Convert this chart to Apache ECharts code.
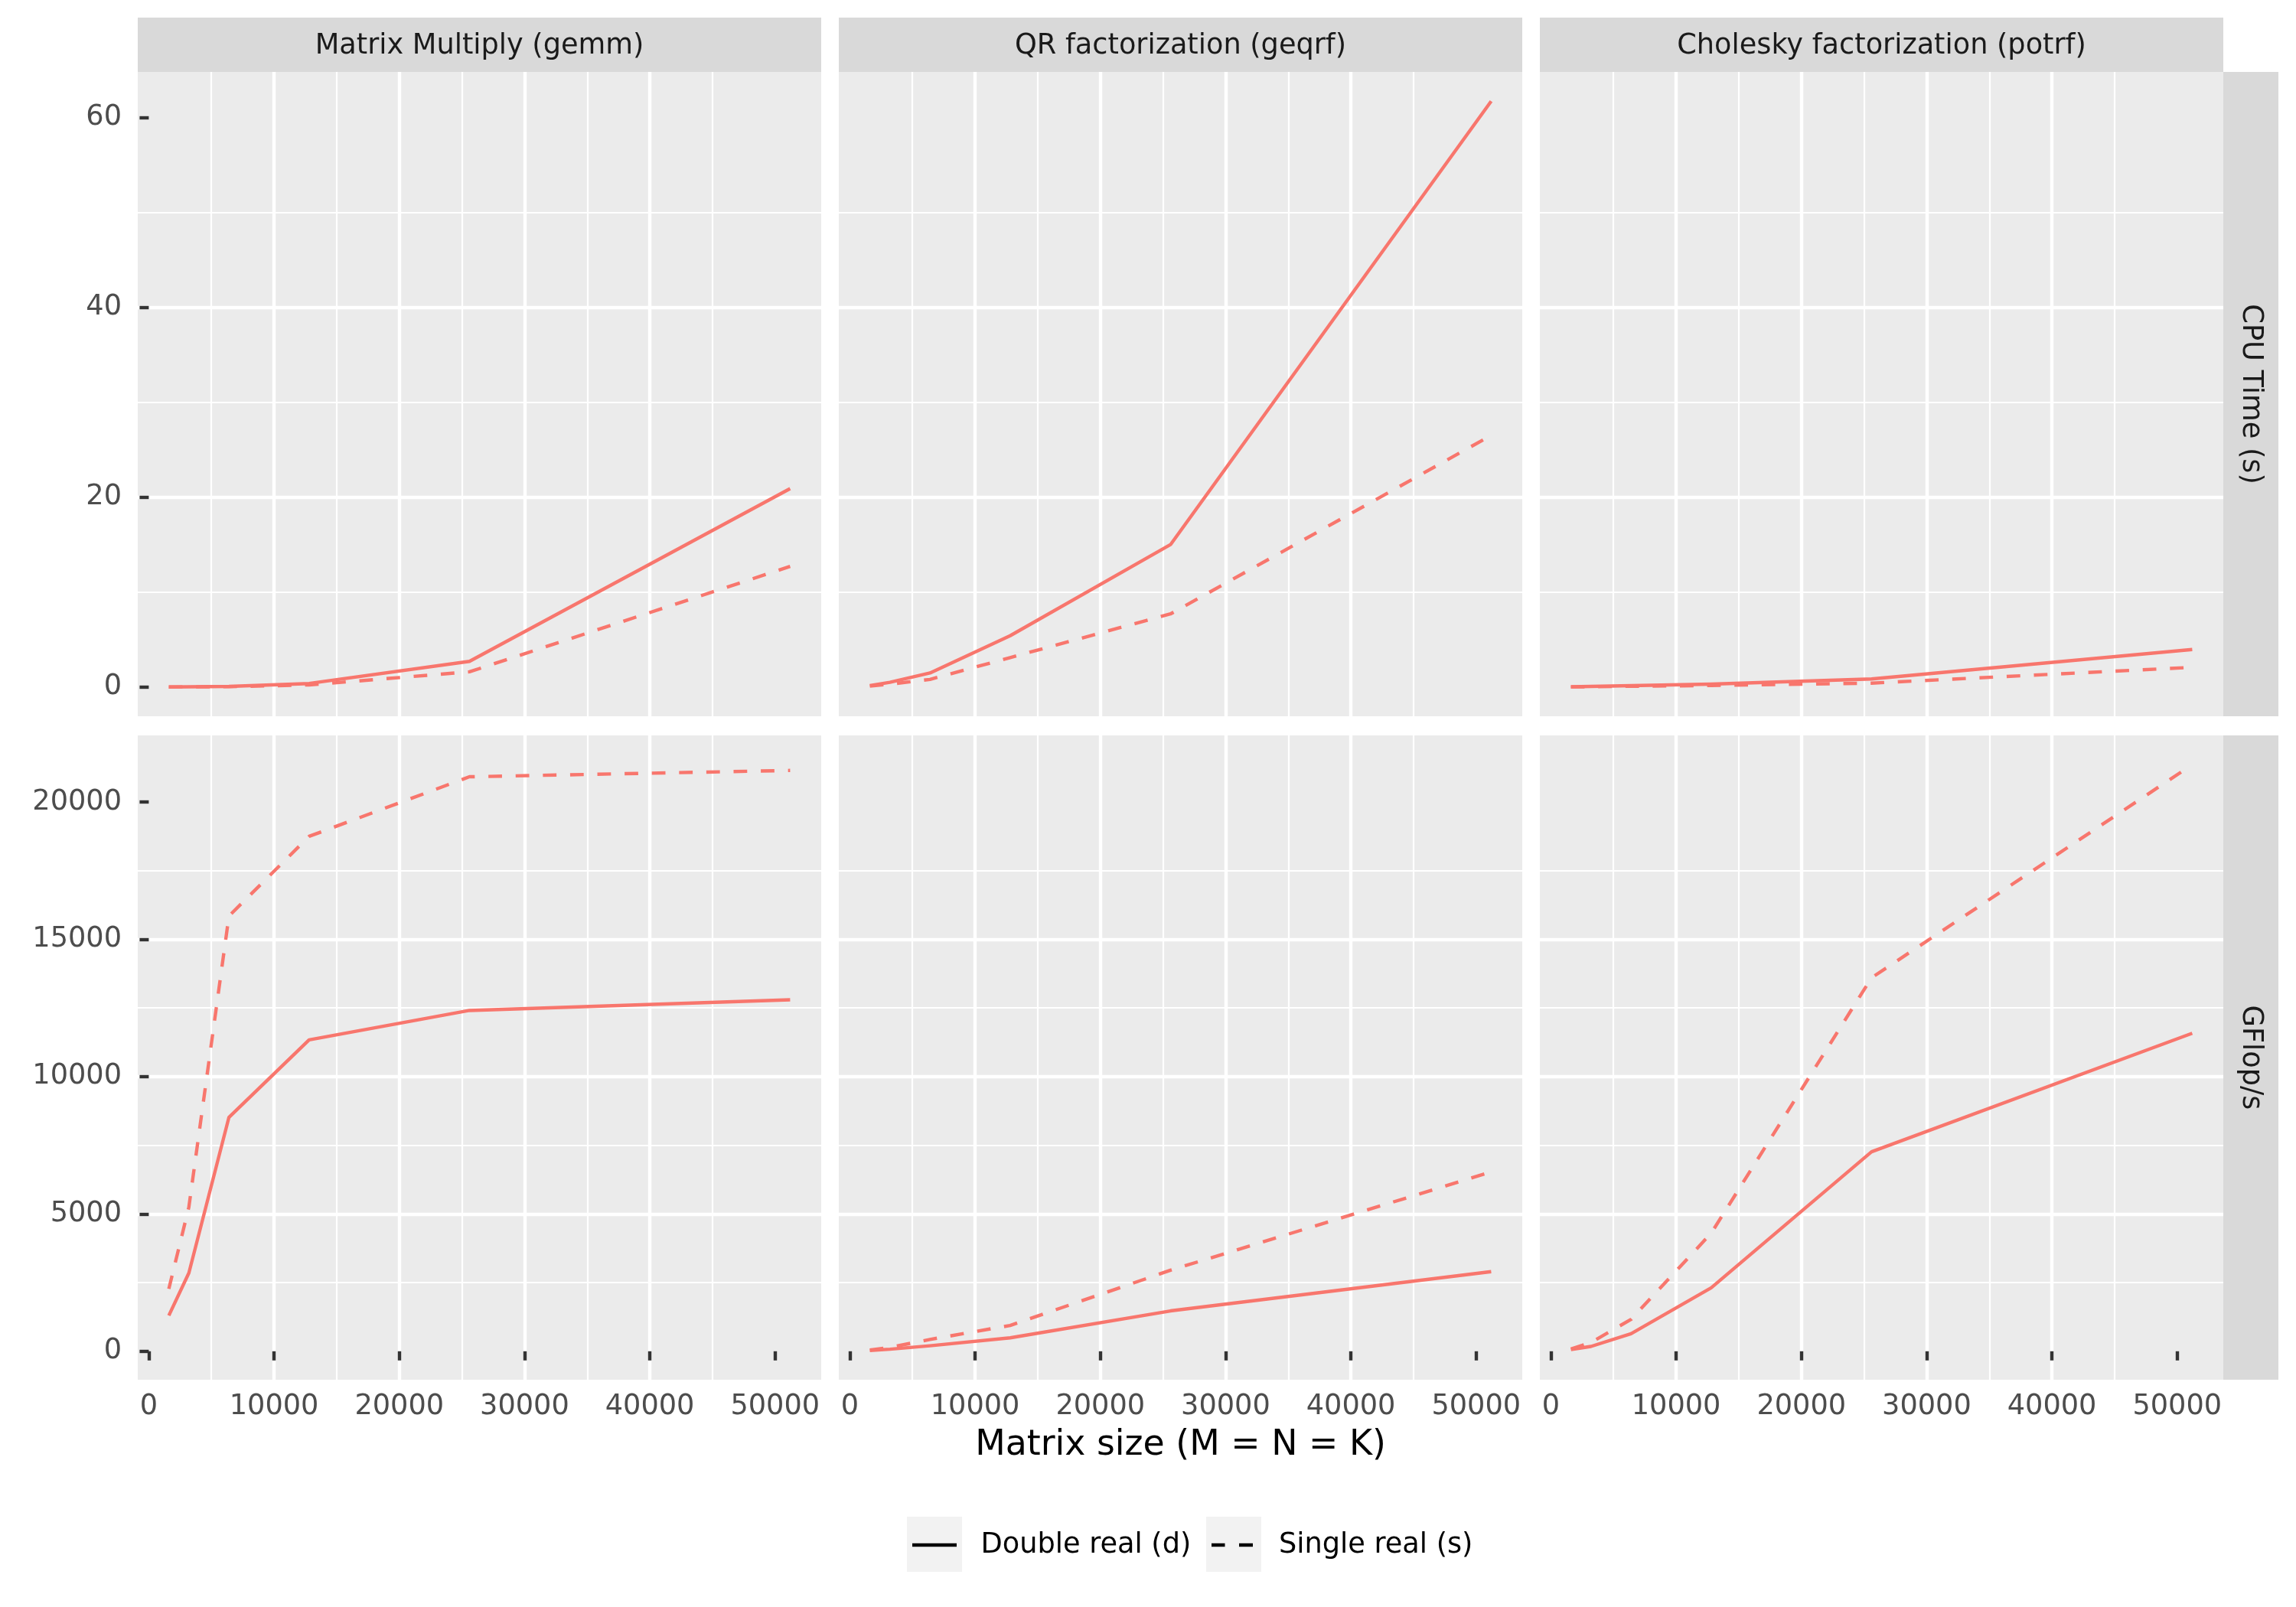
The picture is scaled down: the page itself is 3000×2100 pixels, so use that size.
<!DOCTYPE html>
<html><head><meta charset="utf-8">
<script src="https://cdn.jsdelivr.net/npm/echarts@6/dist/echarts.min.js"></script>
<style>html,body{margin:0;padding:0;background:#fff}#c{width:3000px;height:2100px}</style>
</head><body><div id="c"></div>
<script>
// ---- data ----
const sizes = [1600, 3200, 6400, 12800, 25600, 51200];
const routines = ['Matrix Multiply (gemm)', 'QR factorization (geqrf)', 'Cholesky factorization (potrf)'];
const metrics = ['CPU Time (s)', 'GFlop/s'];
const precisions = ['Double real (d)', 'Single real (s)'];
const xTicks = [0, 10000, 20000, 30000, 40000, 50000];
const cpuTicks = [0, 20, 40, 60];
const gflopTicks = [0, 5000, 10000, 15000, 20000];

const cpuGemmD = [0.006, 0.023, 0.062, 0.37, 2.7, 20.9];
const cpuGemmS = [0.004, 0.012, 0.033, 0.22, 1.6, 12.7];
const cpuGeqrfD = [0.15, 0.5, 1.48, 5.4, 15.0, 61.7];
const cpuGeqrfS = [0.1, 0.3, 0.8, 3.1, 7.7, 26.5];
const cpuPotrfD = [0.02, 0.06, 0.14, 0.3, 0.85, 3.95];
const cpuPotrfS = [0.016, 0.034, 0.077, 0.16, 0.41, 2.07];
const gfGemmD = [1300, 2850, 8520, 11340, 12410, 12800];
const gfGemmS = [2270, 5250, 15850, 18750, 20920, 21150];
const gfGeqrfD = [30, 75, 200, 490, 1470, 2900];
const gfGeqrfS = [45, 140, 430, 940, 2950, 6530];
const gfPotrfD = [65, 176, 640, 2310, 7265, 11580];
const gfPotrfS = [85, 320, 1160, 4300, 13600, 21360];

const panelData = [
  [[cpuGemmD, cpuGemmS], [cpuGeqrfD, cpuGeqrfS], [cpuPotrfD, cpuPotrfS]],
  [[gfGemmD, gfGemmS], [gfGeqrfD, gfGeqrfS], [gfPotrfD, gfPotrfS]]
];
const rowTicks = [cpuTicks, gflopTicks];

// ---- styling / layout ----
const FONT = 'DejaVu Sans';
const FS = 36.7;
const LINE_COLOR = '#F8766D';
const LW = 4.4;
const DASH = [17.8, 17.8];
const GRID_MAJOR = 4.4, GRID_MINOR = 2.2;
const colLeft = [180, 1096, 2012];
const colW = 893;
const rowTop = [94, 961];
const rowH = 842;
const stripTop = 23, stripH = 71;
const rStripX = 2905, rStripW = 72;

function expand(vals) {
  const mn = Math.min(...vals), mx = Math.max(...vals);
  const pad = 0.05 * (mx - mn);
  return [mn - pad, mx + pad];
}
const xRange = expand(sizes);
const yRanges = panelData.map(row => expand(row.flat(2)));
const ySplit = [3, 5];

const grids = [], xAxes = [], yAxes = [], series = [];
for (let r = 0; r < 2; r++) {
  for (let c = 0; c < 3; c++) {
    const idx = r * 3 + c;
    grids.push({left: colLeft[c], top: rowTop[r], width: colW, height: rowH,
      show: true, backgroundColor: '#EBEBEB', borderWidth: 0, containLabel: false, outerBoundsMode: 'none'});
    xAxes.push({
      gridIndex: idx, type: 'value', min: xRange[0], max: xRange[1], splitNumber: 5,
      axisLine: {show: false},
      axisTick: {show: r === 1, length: 12, customValues: xTicks, lineStyle: {color: '#333333', width: GRID_MAJOR}},
      axisLabel: {show: r === 1, customValues: xTicks, margin: 17, color: '#4D4D4D', fontSize: FS, fontFamily: FONT,
        formatter: v => String(v)},
      splitLine: {show: true, showMinLine: false, showMaxLine: false, lineStyle: {color: '#FFFFFF', width: GRID_MAJOR}},
      minorTick: {show: false, splitNumber: 2},
      minorSplitLine: {show: true, lineStyle: {color: '#FFFFFF', width: GRID_MINOR}}
    });
    yAxes.push({
      gridIndex: idx, type: 'value', min: yRanges[r][0], max: yRanges[r][1], splitNumber: ySplit[r],
      axisLine: {show: false},
      axisTick: {show: c === 0, length: 12, customValues: rowTicks[r], lineStyle: {color: '#333333', width: GRID_MAJOR}},
      axisLabel: {show: c === 0, customValues: rowTicks[r], margin: 21, color: '#4D4D4D', fontSize: FS, fontFamily: FONT,
        formatter: v => String(v)},
      splitLine: {show: true, showMinLine: false, showMaxLine: false, lineStyle: {color: '#FFFFFF', width: GRID_MAJOR}},
      minorTick: {show: false, splitNumber: 2},
      minorSplitLine: {show: true, lineStyle: {color: '#FFFFFF', width: GRID_MINOR}}
    });
    for (let p = 0; p < 2; p++) {
      series.push({
        type: 'line', name: precisions[p], xAxisIndex: idx, yAxisIndex: idx,
        data: sizes.map((s, i) => [s, panelData[r][c][p][i]]),
        symbol: 'none', showSymbol: false, smooth: false, animation: false,
        lineStyle: {color: LINE_COLOR, width: LW, type: p === 0 ? 'solid' : DASH, cap: 'butt', join: 'round'},
        itemStyle: {color: LINE_COLOR},
        emphasis: {disabled: true}
      });
    }
  }
}

const graphics = [];
routines.forEach((name, c) => {
  graphics.push({type: 'rect', shape: {x: colLeft[c], y: stripTop, width: colW, height: stripH},
    style: {fill: '#D9D9D9'}, z: 0});
  graphics.push({type: 'text', x: colLeft[c] + colW / 2, y: stripTop + stripH / 2 + 1.5,
    style: {text: name, fill: '#1A1A1A', font: FS + 'px "' + FONT + '"', textAlign: 'center', textVerticalAlign: 'middle'}, z: 1});
});
metrics.forEach((name, r) => {
  graphics.push({type: 'rect', shape: {x: rStripX, y: rowTop[r], width: rStripW, height: rowH},
    style: {fill: '#D9D9D9'}, z: 0});
  graphics.push({type: 'text', x: rStripX + rStripW / 2, y: rowTop[r] + rowH / 2, rotation: -Math.PI / 2,
    style: {text: name, fill: '#1A1A1A', font: FS + 'px "' + FONT + '"', textAlign: 'center', textVerticalAlign: 'middle'}, z: 1});
});
graphics.push({type: 'text', x: (colLeft[0] + colLeft[2] + colW) / 2, y: 1889,
  style: {text: 'Matrix size (M = N = K)', fill: '#000000', font: '45.8px "' + FONT + '"', textAlign: 'center', textVerticalAlign: 'middle'}, z: 1});
// legend key backgrounds
graphics.push({type: 'rect', shape: {x: 1185, y: 1982, width: 72, height: 72}, style: {fill: '#F2F2F2'}, z: 0});
graphics.push({type: 'rect', shape: {x: 1576, y: 1982, width: 72, height: 72}, style: {fill: '#F2F2F2'}, z: 0});

const legendText = {color: '#000000', fontSize: FS, fontFamily: FONT, lineHeight: 40, padding: [0, 0, 0, 26.5]};
const option = {
  animation: false,
  backgroundColor: '#FFFFFF',
  grid: grids, xAxis: xAxes, yAxis: yAxes, series: series,
  graphic: {elements: graphics},
  legend: [
    {data: [precisions[0]], left: 1192, top: 1999, padding: 0, itemWidth: 58, itemHeight: 4.4, selectedMode: false,
      icon: 'path://M0,0H58V4.4H0Z',
      itemStyle: {color: '#000000', borderWidth: 0}, textStyle: legendText},
    {data: [precisions[1]], left: 1583, top: 1999, padding: 0, itemWidth: 54, itemHeight: 4.4, selectedMode: false,
      icon: 'path://M0,0H17.5V4.4H0Z M36,0H54V4.4H36Z',
      itemStyle: {color: '#000000', borderWidth: 0}, textStyle: Object.assign({}, legendText, {padding: [0, 0, 0, 29]})}
  ]
};
const chart = echarts.init(document.getElementById('c'), null, {renderer: 'canvas', width: 3000, height: 2100});
chart.setOption(option);
</script></body></html>
